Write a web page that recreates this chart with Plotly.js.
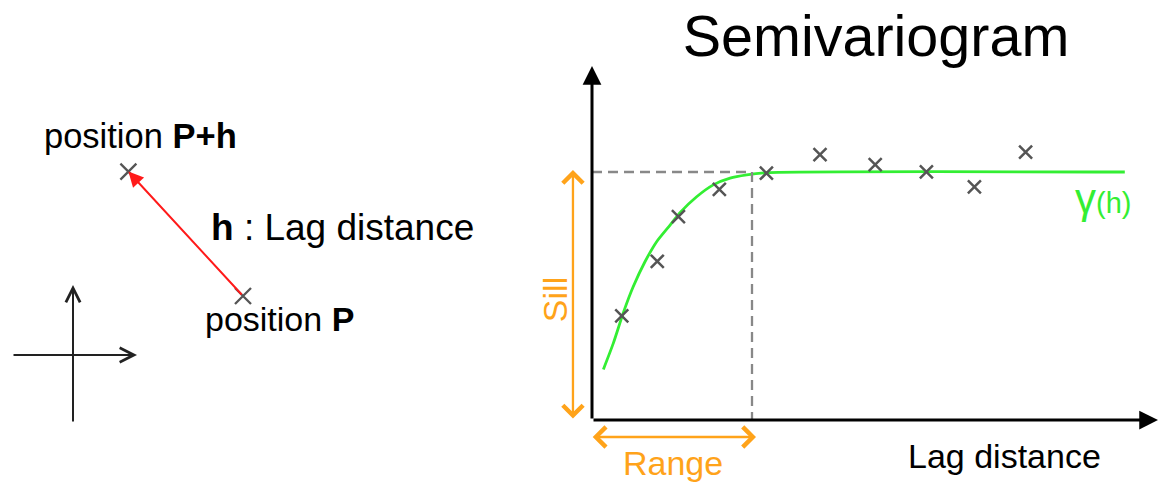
<!DOCTYPE html>
<html>
<head>
<meta charset="utf-8">
<script src="https://cdn.plot.ly/plotly-3.0.1.min.js"></script>
<style>html,body{margin:0;padding:0;background:#fff;}#chart{width:1164px;height:482px;}</style>
</head>
<body>
<div id="chart"></div>
<script>
// ---- Semivariogram data (lag distance units, sill = 1, range = 10) ----
const lagPoints   = [1.86, 4.08, 5.40, 7.96, 10.90, 14.25, 17.70, 20.90, 23.90, 27.10];
const gammaPoints = [0.42, 0.64, 0.82, 0.93, 0.995, 1.07, 1.03, 1.00, 0.94, 1.08];
const modelLag    = [0.71, 1.33, 1.96, 2.58, 3.31, 4.04, 4.88, 5.50, 6.54, 7.58, 8.63, 9.67, 10.92, 33.3];
const modelGamma  = [0.204, 0.309, 0.433, 0.538, 0.638, 0.719, 0.786, 0.836, 0.900, 0.948, 0.975, 0.988, 0.997, 1.0];
const sill = 1.0;
const rangeVal = 10.0;
const xAxisEnd = 35.375;
const yAxisEnd = 1.427;

// ---- Left sketch: positions ----
const posP  = [8.5, 2.95];
const posPh = [2.77, 9.17];
const frameX = [-3.05, 3.2];
const frameY = [-3.4, 3.5];

// ---- Labels ----
const titleText = 'Semivariogram';
const xLabel = 'Lag distance';
const sillLabel = 'Sill';
const rangeLabel = 'Range';
const gammaLabel = 'γ<span style="font-size:29px">(h)</span>';
const labelPh = 'position <b>P+h</b>';
const labelP = 'position <b>P</b>';
const labelH = '<b>h</b> : Lag distance';

const FONT = 'Arial, "Liberation Sans", sans-serif';
const ORANGE = '#ffa31a';
const GREEN = '#33ee33';
const GREY = '#555555';

const traces = [
  {x: modelLag, y: modelGamma, type: 'scatter', mode: 'lines', xaxis: 'x', yaxis: 'y',
   line: {color: GREEN, width: 2.8, shape: 'spline', smoothing: 0.6}, hoverinfo: 'skip', cliponaxis: false},
  {x: lagPoints, y: gammaPoints, type: 'scatter', mode: 'markers', xaxis: 'x', yaxis: 'y',
   marker: {symbol: 'x-thin', size: 13, line: {color: GREY, width: 2.5}, color: GREY}, cliponaxis: false},
  {x: [posP[0], posPh[0]], y: [posP[1], posPh[1]], type: 'scatter', mode: 'markers', xaxis: 'x2', yaxis: 'y2',
   marker: {symbol: 'x-thin', size: 16, line: {color: GREY, width: 2.3}, color: GREY}, cliponaxis: false}
];

function arrow(x, y, ax, ay, xr, yr, opts) {
  return Object.assign({x: x, y: y, ax: ax, ay: ay, xref: xr, yref: yr, axref: xr, ayref: yr,
    text: '', showarrow: true, standoff: 0, startstandoff: 0}, opts);
}
function label(text, x, y, xr, yr, size, color, extra) {
  return Object.assign({text: text, x: x, y: y, xref: xr, yref: yr, showarrow: false,
    xanchor: 'center', yanchor: 'middle', font: {family: FONT, size: size, color: color}}, extra || {});
}

const annotations = [
  // main axes
  arrow(xAxisEnd, 0, 0, 0, 'x', 'y', {arrowhead: 2, arrowsize: 1.25, arrowwidth: 3, arrowcolor: '#000'}),
  arrow(0, yAxisEnd, 0, 0, 'x', 'y', {arrowhead: 2, arrowsize: 1.25, arrowwidth: 3, arrowcolor: '#000'}),
  // sill double arrow
  arrow(-1.19, sill + 0.008, -1.19, 0, 'x', 'y', {arrowhead: 4, startarrowhead: 4, arrowside: 'end+start',
    arrowsize: 1.7, startarrowsize: 1.7, arrowwidth: 2.3, arrowcolor: ORANGE}),
  // range double arrow
  arrow(rangeVal + 0.25, -0.0685, -0.05, -0.0685, 'x', 'y', {arrowhead: 4, startarrowhead: 4, arrowside: 'end+start',
    arrowsize: 1.7, startarrowsize: 1.7, arrowwidth: 2.3, arrowcolor: ORANGE}),
  label(sillLabel, -2.3, 0.484, 'x', 'y', 34, ORANGE, {textangle: -90}),
  label(rangeLabel, 5.06, -0.172, 'x', 'y', 34, ORANGE),
  label(xLabel, 25.8, -0.145, 'x', 'y', 34, '#000'),
  label(gammaLabel, 31.95, 0.895, 'x', 'y', 42, GREEN),
  // left sketch
  arrow(frameX[1], 0, frameX[0], 0, 'x2', 'y2', {arrowhead: 5, arrowsize: 1.4, arrowwidth: 2, arrowcolor: '#222'}),
  arrow(0, frameY[1], 0, frameY[0], 'x2', 'y2', {arrowhead: 5, arrowsize: 1.4, arrowwidth: 2, arrowcolor: '#222'}),
  arrow(posPh[0], posPh[1], posP[0], posP[1], 'x2', 'y2', {arrowhead: 2, arrowsize: 1.5, arrowwidth: 2, arrowcolor: '#ff1a1a'}),
  label(labelPh, 3.35, 10.95, 'x2', 'y2', 34.5, '#000'),
  label(labelH, 13.45, 6.4, 'x2', 'y2', 37, '#000'),
  label(labelP, 10.3, 1.8, 'x2', 'y2', 34, '#000')
];

const shapes = [
  {type: 'line', xref: 'x', yref: 'y', x0: 0, y0: sill, x1: rangeVal, y1: sill,
   line: {color: '#888', width: 2.3, dash: '10px,6px'}},
  {type: 'line', xref: 'x', yref: 'y', x0: rangeVal, y0: sill, x1: rangeVal, y1: 0,
   line: {color: '#888', width: 2.3, dash: '10px,6px'}}
];

const hidden = {visible: false, showgrid: false, zeroline: false, fixedrange: true};
const layout = {
  width: 1164, height: 482,
  margin: {l: 0, r: 0, t: 0, b: 0},
  paper_bgcolor: '#fff', plot_bgcolor: 'rgba(0,0,0,0)',
  showlegend: false,
  title: {text: titleText, x: 876 / 1164, xref: 'paper', xanchor: 'center', y: (482 - 36) / 482, yref: 'paper', yanchor: 'middle',
          font: {family: FONT, size: 57.5, color: '#000'}},
  xaxis: Object.assign({domain: [530 / 1164, 1], range: [-3.875, 35.75]}, hidden),
  yaxis: Object.assign({domain: [0, 1], range: [-0.25, 1.6935]}, hidden),
  xaxis2: Object.assign({domain: [0, 512 / 1164], range: [-3.65, 21.95], anchor: 'y2'}, hidden),
  yaxis2: Object.assign({domain: [0, 1], range: [-6.35, 17.75], anchor: 'x2'}, hidden),
  annotations: annotations,
  shapes: shapes
};

Plotly.newPlot('chart', traces, layout, {displayModeBar: false, staticPlot: true});
</script>
</body>
</html>
